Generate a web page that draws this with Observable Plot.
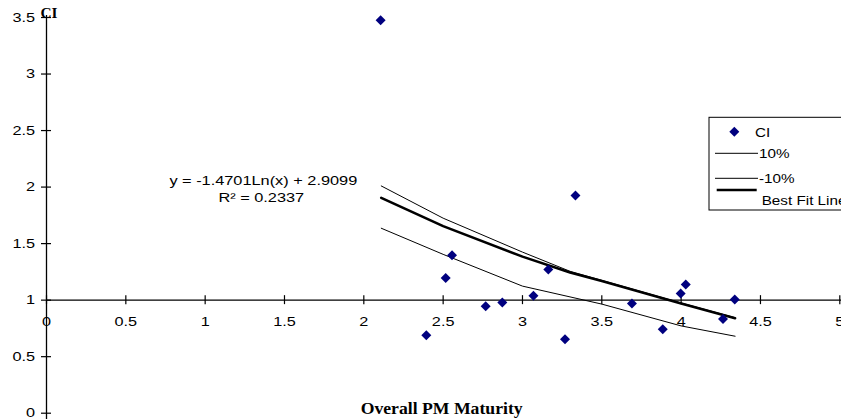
<!DOCTYPE html>
<html><head><meta charset="utf-8">
<script src="https://cdn.jsdelivr.net/npm/d3@7"></script>
<script src="https://cdn.jsdelivr.net/npm/@observablehq/plot@0.6"></script>
<style>
html,body{margin:0;padding:0;background:#fff}
#chart svg{display:block}
</style>
</head><body><div id="chart"></div>
<script>
// CI observations (x = Overall PM Maturity, y = CI)
const ciX = [2.106, 2.394, 2.516, 2.556, 2.768, 2.873, 3.069, 3.163, 3.268, 3.334, 3.690, 3.884, 3.997, 4.029, 4.264, 4.338];
const ciY = [3.476, 0.689, 1.195, 1.397, 0.947, 0.980, 1.038, 1.272, 0.654, 1.925, 0.971, 0.743, 1.059, 1.139, 0.834, 1.006];

// Lines
const fitX = [2.11, 2.5, 3.0, 3.3, 3.5, 4.0, 4.34];
const bestFitY = [1.905, 1.655, 1.385, 1.245, 1.17, 0.97, 0.84];
const plus10Y = [2.01, 1.725, 1.425, 1.255, 1.175, 0.975, 0.845];
const minus10X = [2.11, 2.5, 3.0, 3.5, 4.0, 4.34];
const minus10Y = [1.636, 1.405, 1.124, 0.965, 0.772, 0.681];

// Axes
const xTicks = [0, 0.5, 1, 1.5, 2, 2.5, 3, 3.5, 4, 4.5, 5];
const yTicks = [0, 0.5, 1, 1.5, 2, 2.5, 3, 3.5];
const xAxisAt = 1; // x axis crosses y at 1

// Text
const yTitle = "CI";
const xTitle = "Overall PM Maturity";
const eqLine1 = "y = -1.4701Ln(x) + 2.9099";
const eqLine2 = "R\u00B2 = 0.2337";
const legendLabels = ["CI", "10%", "-10%", "Best Fit Line"];

const points = ciX.map((x, i) => ({x, y: ciY[i]}));
const bestFit = fitX.map((x, i) => ({x, y: bestFitY[i]}));
const plus10 = fitX.map((x, i) => ({x, y: plus10Y[i]}));
const minus10 = minus10X.map((x, i) => ({x, y: minus10Y[i]}));

const navy = "#00007f";
const sans = "'Liberation Sans', Arial, sans-serif";
const serif = "'Liberation Serif', 'Times New Roman', serif";

const chart = Plot.plot({
  width: 841, height: 419,
  marginLeft: 46, marginRight: 1.7, marginTop: 17, marginBottom: 6.3,
  style: {fontFamily: sans, fontSize: "12.5px", color: "#000", background: "#fff"},
  x: {domain: [0, 5], axis: null},
  y: {domain: [0, 3.5], axis: null},
  marks: [
    Plot.ruleX([0], {insetTop: -2, insetBottom: -7, stroke: "#000", strokeWidth: 1.3}),
    Plot.ruleY([xAxisAt], {insetRight: -2, stroke: "#000", strokeWidth: 1.3}),
    Plot.ruleY(yTicks, {y: d => d, x1: () => 0, x2: () => 0, insetLeft: -5, insetRight: -5, stroke: "#000", strokeWidth: 1.2}),
    Plot.ruleX(xTicks, {x: d => d, y1: () => xAxisAt, y2: () => xAxisAt, insetTop: -4.5, insetBottom: -4.5, stroke: "#000", strokeWidth: 1.2}),
    Plot.axisY(yTicks, {tickSize: 0, tickPadding: 11.5, label: null, fontSize: 12.5, fill: "#000", tickFormat: d => String(d)}),
    Plot.text(xTicks, {x: d => d, y: () => xAxisAt, dy: 25.5, lineAnchor: "bottom", text: d => String(d), fontSize: 12.5, fill: "#000"}),
    Plot.line(plus10, {x: "x", y: "y", stroke: "#000", strokeWidth: 1}),
    Plot.line(minus10, {x: "x", y: "y", stroke: "#000", strokeWidth: 1}),
    Plot.line(bestFit, {x: "x", y: "y", stroke: "#000", strokeWidth: 2.6}),
    Plot.dot(points, {x: "x", y: "y", symbol: "diamond2", r: 4.5, fill: navy, stroke: null}),
    Plot.text([eqLine1], {frameAnchor: "top-left", dx: 216.8, dy: 167, text: d => d, textAnchor: "middle", lineAnchor: "bottom", fontSize: 12, fill: "#000"}),
    Plot.text([eqLine2], {frameAnchor: "top-left", dx: 214.8, dy: 184.7, text: d => d, textAnchor: "middle", lineAnchor: "bottom", fontSize: 12, fill: "#000"}),
    Plot.text([yTitle], {frameAnchor: "top-left", dx: -6, dy: 0.5, text: d => d, textAnchor: "start", lineAnchor: "bottom", fontFamily: serif, fontWeight: "bold", fontSize: 14, fill: "#000"}),
    Plot.text([xTitle], {frameAnchor: "bottom", dx: -1.5, dy: 0.8, text: d => d, textAnchor: "middle", lineAnchor: "bottom", fontFamily: serif, fontWeight: "bold", fontSize: 17, fill: "#000"})
  ]
});

document.getElementById("chart").appendChild(chart);
const svg = d3.select(chart);

function stretchEl(el, k) {
  const L = el.getComputedTextLength();
  el.setAttribute("textLength", (L * k).toFixed(2));
  el.setAttribute("lengthAdjust", "spacingAndGlyphs");
}
function fitEl(el, w) {
  el.setAttribute("textLength", w);
  el.setAttribute("lengthAdjust", "spacingAndGlyphs");
}
const tickStrings = new Set(xTicks.concat(yTicks).map(String));
svg.selectAll("text").each(function() {
  const t = this.textContent;
  if (t === eqLine1 || t === eqLine2) stretchEl(this, 1.36);
  else if (t === xTitle) fitEl(this, 162);
  else if (t === yTitle) fitEl(this, 17);
  else if (tickStrings.has(t)) stretchEl(this, 1.3);
});

// Legend (cut off at the right edge, as in the reference)
const lg = svg.append("g").attr("aria-label", "legend");
lg.append("rect").attr("x", 709).attr("y", 117.3).attr("width", 200).attr("height", 92.7)
  .attr("fill", "#fff").attr("stroke", "#000").attr("stroke-width", 1);
lg.append("path").attr("transform", "translate(734.3,131.7)")
  .attr("d", d3.symbol(d3.symbolDiamond2, Math.PI * 4.5 * 4.5)()).attr("fill", navy);
lg.append("line").attr("x1", 715).attr("x2", 758).attr("y1", 153.3).attr("y2", 153.3).attr("stroke", "#000").attr("stroke-width", 1);
lg.append("line").attr("x1", 715).attr("x2", 758).attr("y1", 178.3).attr("y2", 178.3).attr("stroke", "#000").attr("stroke-width", 1);
lg.append("line").attr("x1", 716.7).attr("x2", 756.7).attr("y1", 190).attr("y2", 190).attr("stroke", "#000").attr("stroke-width", 2.6);
const lgPos = [[755, 136.7], [759, 158.3], [759, 183.3], [761.7, 205]];
lg.selectAll("text.lg").data(legendLabels).join("text")
  .attr("class", "lg")
  .attr("x", (d, i) => lgPos[i][0]).attr("y", (d, i) => lgPos[i][1])
  .attr("text-anchor", "start")
  .attr("font-family", sans).attr("font-size", 12.5).attr("fill", "#000")
  .text(d => d)
  .each(function() { stretchEl(this, 1.22); });
</script>
</body></html>
